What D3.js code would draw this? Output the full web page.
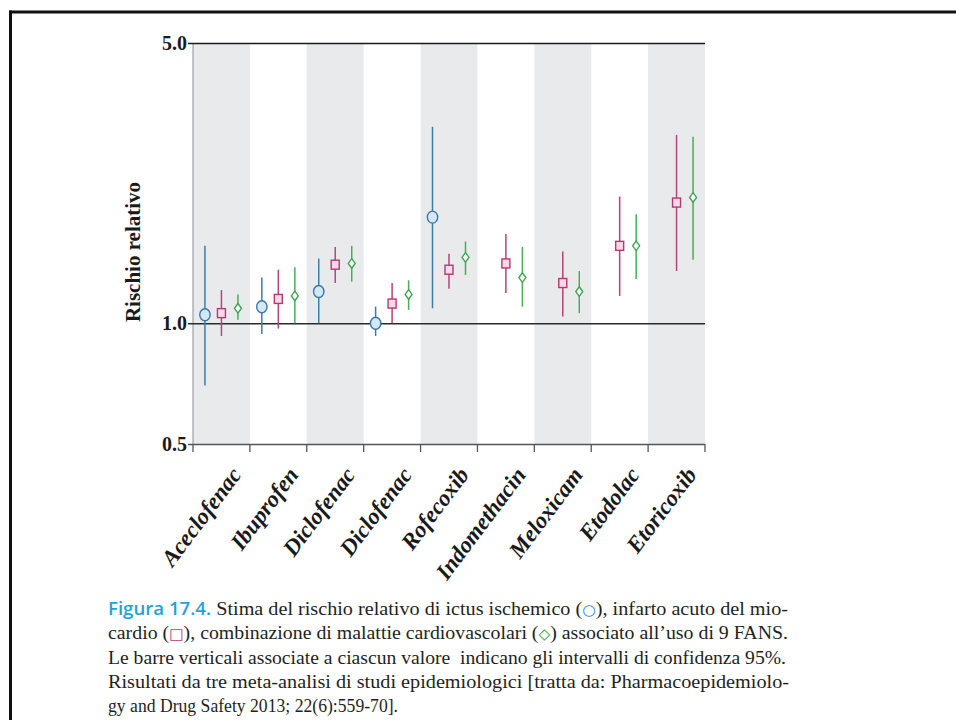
<!DOCTYPE html>
<html><head><meta charset="utf-8">
<script src="https://cdn.jsdelivr.net/npm/d3@7"></script>
<style>
html,body{margin:0;padding:0;background:#fff;}
svg{display:block;}
</style></head>
<body>
<svg id="chart" width="956" height="720"></svg>
<script>
// ---------- DATA ----------
const categories = ["Aceclofenac","Ibuprofen","Diclofenac","Diclofenac","Rofecoxib","Indomethacin","Meloxicam","Etodolac","Etoricoxib"];
// ictus ischemico (circle): estimate, lower, upper
const strokeEst = [1.05, 1.10, 1.20, 1.00, 1.84, null, null, null, null];
const strokeLo  = [0.70, 0.94, 1.00, 0.93, 1.09, null, null, null, null];
const strokeHi  = [1.56, 1.30, 1.45, 1.10, 3.09, null, null, null, null];
// infarto acuto del miocardio (square)
const miEst = [1.06, 1.15, 1.40, 1.12, 1.36, 1.41, 1.26, 1.56, 2.00];
const miLo  = [0.93, 0.97, 1.26, 1.00, 1.22, 1.19, 1.04, 1.17, 1.35];
const miHi  = [1.21, 1.36, 1.55, 1.26, 1.49, 1.67, 1.51, 2.07, 2.95];
// combinazione cardiovascolare (diamond)
const cvEst = [1.09, 1.17, 1.41, 1.18, 1.46, 1.30, 1.20, 1.56, 2.06];
const cvLo  = [1.02, 1.00, 1.27, 1.08, 1.32, 1.10, 1.06, 1.29, 1.44];
const cvHi  = [1.18, 1.38, 1.56, 1.28, 1.60, 1.55, 1.35, 1.87, 2.92];
const yTicks = [0.5, 1.0, 5.0];
const yLabel = "Rischio relativo";

// ---------- LAYOUT ----------
const svg = d3.select("#chart");
const pLeft = 193, pRight = 705, pTop = 43, pBottom = 444;
const x = d3.scaleBand().domain(d3.range(categories.length)).range([pLeft, pRight]).padding(0);
const y = d3.scaleLog().domain([0.5, 5]).range([pBottom, pTop]);

// frame lines of the page
svg.append("line").attr("x1", 9).attr("x2", 956).attr("y1", 12).attr("y2", 12)
  .attr("stroke", "#111").attr("stroke-width", 3);
svg.append("line").attr("x1", 10.5).attr("x2", 10.5).attr("y1", 10.5).attr("y2", 720)
  .attr("stroke", "#111").attr("stroke-width", 3);

// alternating bands
svg.append("g").selectAll("rect").data(d3.range(categories.length).filter(i => i % 2 === 0))
  .join("rect")
  .attr("x", i => x(i)).attr("width", x.bandwidth())
  .attr("y", pTop).attr("height", pBottom - pTop)
  .attr("fill", "#e8eaec");

// left axis line
svg.append("line").attr("x1", pLeft).attr("x2", pLeft).attr("y1", pTop).attr("y2", pBottom)
  .attr("stroke", "#8a8d90").attr("stroke-width", 1);

// y axis
const yAxis = d3.axisLeft(y).tickValues(yTicks).tickFormat(d3.format(".1f"))
  .tickSize(-(pRight - pLeft)).tickPadding(1);
const gy = svg.append("g").attr("transform", `translate(${pLeft},0)`).call(yAxis);
gy.select(".domain").remove();
gy.selectAll(".tick line").attr("x1", -5).attr("x2", pRight - pLeft)
  .attr("stroke", (d) => d === 5 ? "#1a1a1a" : (d === 1 ? "#2a2a2a" : "#555"))
  .attr("stroke-width", 1.5);
gy.selectAll(".tick text")
  .attr("x", -6)
  .attr("font-family", "Liberation Serif, serif").attr("font-weight", "bold")
  .attr("font-size", 20).attr("fill", "#1a1a1a");

// x axis ticks at band boundaries
const boundaries = d3.range(categories.length + 1);
svg.append("g").selectAll("line").data(boundaries).join("line")
  .attr("x1", i => pLeft + i * x.step()).attr("x2", i => pLeft + i * x.step())
  .attr("y1", pBottom).attr("y2", pBottom + 8)
  .attr("stroke", "#555").attr("stroke-width", 1.3);

// category labels
svg.append("g").selectAll("text").data(categories).join("text")
  .attr("transform", (d, i) => `translate(${x(i) + x.bandwidth() / 2 + 21},475) rotate(-53)`)
  .attr("text-anchor", "end")
  .attr("font-family", "Liberation Serif, serif").attr("font-weight", "bold")
  .attr("font-style", "italic").attr("font-size", 23).attr("fill", "#1a1a1a")
  .text(d => d);

// y label
svg.append("text")
  .attr("transform", "translate(140,252) rotate(-90)")
  .attr("text-anchor", "middle")
  .attr("font-family", "Liberation Serif, serif").attr("font-weight", "bold")
  .attr("font-size", 21).attr("fill", "#1a1a1a")
  .text(yLabel);

// ---------- MARKS ----------
const cx = (i, off) => x(i) + x.bandwidth() / 2 + off;
const series = [
  {est: strokeEst, lo: strokeLo, hi: strokeHi, off: -16.5, line: "#3a7ea5", stroke: "#3b78a6", fill: "#d4e8f4", shape: "circle"},
  {est: miEst, lo: miLo, hi: miHi, off: 0, line: "#b8427a", stroke: "#b23a72", fill: "#f7d9e8", shape: "square"},
  {est: cvEst, lo: cvLo, hi: cvHi, off: 16.5, line: "#47ad5b", stroke: "#3fa552", fill: "#ffffff", shape: "diamond"}
];
series.forEach(s => {
  const idx = d3.range(categories.length).filter(i => s.est[i] != null);
  const g = svg.append("g");
  g.selectAll("line").data(idx).join("line")
    .attr("x1", i => cx(i, s.off)).attr("x2", i => cx(i, s.off))
    .attr("y1", i => y(s.lo[i])).attr("y2", i => y(s.hi[i]))
    .attr("stroke", s.line).attr("stroke-width", 1.5);
  if (s.shape === "circle") {
    g.selectAll("ellipse").data(idx).join("ellipse")
      .attr("cx", i => cx(i, s.off)).attr("cy", i => y(s.est[i]))
      .attr("rx", 5.2).attr("ry", 6)
      .attr("fill", s.fill).attr("stroke", s.stroke).attr("stroke-width", 1.4);
  } else if (s.shape === "square") {
    g.selectAll("rect").data(idx).join("rect")
      .attr("x", i => cx(i, s.off) - 4).attr("y", i => y(s.est[i]) - 4.5)
      .attr("width", 8).attr("height", 9)
      .attr("fill", s.fill).attr("stroke", s.stroke).attr("stroke-width", 1.4);
  } else {
    g.selectAll("path").data(idx).join("path")
      .attr("transform", i => `translate(${cx(i, s.off)},${y(s.est[i])})`)
      .attr("d", "M0,-4.8L3.5,0L0,4.8L-3.5,0Z")
      .attr("fill", s.fill).attr("stroke", s.stroke).attr("stroke-width", 1.4);
  }
});

// ---------- CAPTION ----------
const capX = 108;
const capFont = "Liberation Serif, serif";
const capLines = [
  [{t: "Figura 17.4.", c: "#1fa3d6", f: "Open Sans, sans-serif", w: 600, s: 18},
   {t: " Stima del rischio relativo di ictus ischemico ("}, {t: "○", c: "#2f86c0", f: "DejaVu Sans", s: 15}, {t: "), infarto acuto del mio-"}],
  [{t: "cardio ("}, {t: "□", c: "#b23a72", f: "DejaVu Sans", s: 15}, {t: "), combinazione di malattie cardiovascolari ("}, {t: "◇", c: "#2e9e45", f: "DejaVu Sans", s: 15}, {t: ") associato all’uso di 9 FANS."}],
  [{t: "Le barre verticali associate a ciascun valore  indicano gli intervalli di confidenza 95%."}],
  [{t: "Risultati da tre meta-analisi di studi epidemiologici [tratta da: Pharmacoepidemiolo-"}],
  [{t: "gy and Drug Safety 2013; 22(6):559-70]."}]
];
const capBase = [615, 639, 664, 688, 712];
const capWidths = [680, 680, 678, 681, 290];
capLines.forEach((parts, li) => {
  const t = svg.append("text").attr("x", capX).attr("y", capBase[li])
    .attr("font-family", capFont).attr("font-size", 19.5).attr("fill", "#231f20")
    .style("white-space", "pre")
    .attr("textLength", capWidths[li]).attr("lengthAdjust", "spacingAndGlyphs");
  parts.forEach(p => {
    const ts = t.append("tspan").text(p.t);
    if (p.c) ts.attr("fill", p.c);
    if (p.f) ts.attr("font-family", p.f);
    if (p.w) ts.attr("font-weight", p.w);
    if (p.s) ts.attr("font-size", p.s);
  });
});
</script>
</body></html>
